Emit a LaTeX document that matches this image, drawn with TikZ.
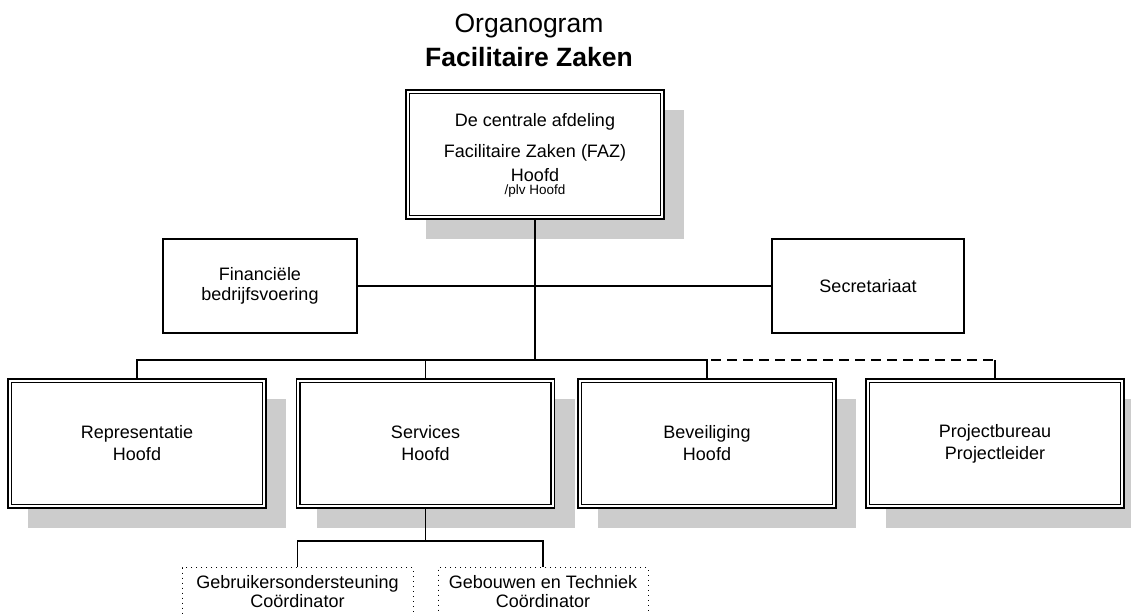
\documentclass[tikz,border=0pt]{standalone}
\usepackage{fontspec}
\setmainfont{Liberation Sans}
\usetikzlibrary{shadows}

\begin{document}
\begin{tikzpicture}[x=1pt,y=-1pt,
  unit/.style={draw, line width=1.1pt, fill=white, inner sep=0pt,
    minimum width=258pt, minimum height=129pt, align=center,
    font=\fontsize{18}{22}\selectfont,
    drop shadow={shadow xshift=20pt, shadow yshift=-20pt, fill=black!20, opacity=1}},
  innerline/.style={line width=1.8pt},
  staff/.style={draw, line width=1.3pt, fill=white, inner sep=0pt,
    minimum height=94pt, align=center, font=\fontsize{18}{20}\selectfont},
  team/.style={draw, dash pattern=on 1pt off 4pt, line width=1pt, inner sep=0pt,
    minimum height=48pt, anchor=north, align=center,
    font=\fontsize{18}{19}\selectfont},
  conn/.style={line width=1.4pt},
  trunk/.style={line width=2.8pt},
  reportline/.style={line width=1.4pt, dash pattern=on 10pt off 6pt},
  lbl/.style={inner sep=0pt, anchor=base, font=\fontsize{18}{22}\selectfont},
  heading/.style={inner sep=0pt, anchor=base, font=\fontsize{26.5}{30}\selectfont}
]
\useasboundingbox (0,0) rectangle (1131,613);

% title
\node[heading] (title1) at (529,32) {Organogram};
\node[heading, font=\fontsize{26.5}{30}\selectfont\bfseries] (title2) at (529,66) {Facilitaire Zaken};

% head of department
\node[unit] (faz) at (535,154.5) {};
\node[lbl] (faz1) at (535,126) {De centrale afdeling};
\node[lbl] (faz2) at (535,157) {Facilitaire Zaken (FAZ)};
\node[lbl] (faz3) at (535,181) {Hoofd};
\node[lbl, font=\fontsize{13.5}{16}\selectfont] (faz4) at (535,194) {/plv Hoofd};

% staff
\node[staff, minimum width=194pt] (fin) at (260,286) {Financiële\\bedrijfsvoering};
\node[staff, minimum width=192pt] (sec) at (868,286) {Secretariaat};

% units
\node[unit] (rep)  at (137,443.5) {Representatie\\Hoofd};
\node[unit] (srv)  at (425.5,443.5) {Services\\Hoofd};
\node[unit] (bev)  at (707,443.5) {Beveiliging\\Hoofd};
\node[unit] (proj) at (995,443.5) {Projectbureau\\Projectleider};

% inner line of the double borders
\foreach \n in {faz,rep,srv,bev,proj}
  \draw[innerline] ([shift={(4pt,-4pt)}]\n.north west) rectangle ([shift={(-4pt,4pt)}]\n.south east);

% teams under Services
\node[team, minimum width=231pt] (gbo) at (297.5,567) {Gebruikersondersteuning\\Coördinator};
\node[team, minimum width=210pt] (geb) at (543,567) {Gebouwen en Techniek\\Coördinator};

% connectors
\coordinate (hub) at (535,360);
\coordinate (split) at (425.5,541);
\draw[trunk] (faz.south) -- (hub);
\draw[conn] (fin.east) -- (sec.west);
\draw[conn] (rep.north) |- (bev.north |- hub) -- (bev.north);
\draw[conn] (srv.north) -- (srv.north |- hub);
\draw[reportline] (hub) -- (proj.north |- hub);
\draw[conn] (proj.north |- hub) -- (proj.north);
\draw[conn] (srv.south) -- (split);
\draw[conn] (gbo.north) |- (split) -| (geb.north);
\end{tikzpicture}
\end{document}
